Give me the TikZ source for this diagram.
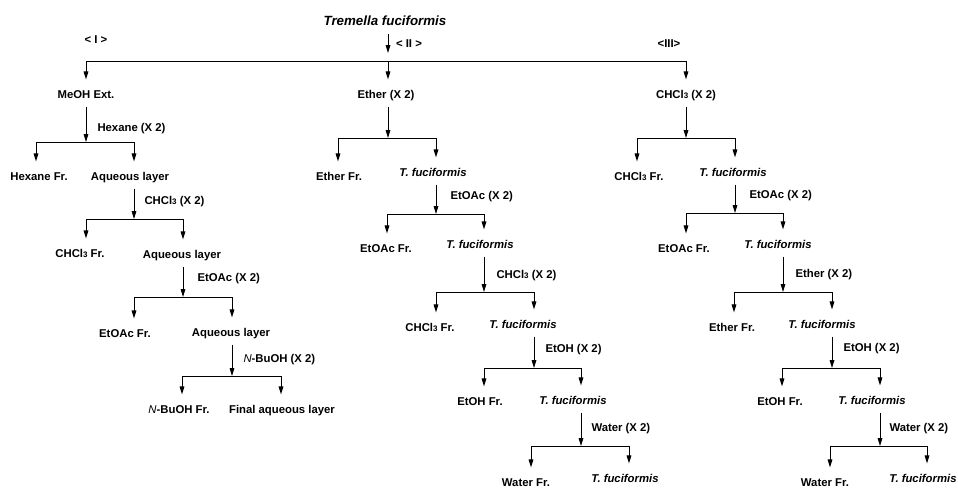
\documentclass[tikz,border=0pt]{standalone}
\usepackage{fontspec}
\setmainfont{Liberation Sans}
\usetikzlibrary{arrows.meta}

\newcommand{\chclthree}{CHCl{\fontsize{6}{6}\selectfont 3}}

\tikzset{every picture/.style={line width=0.75pt}}
\tikzset{
  txt/.style={anchor=base, inner sep=0.75pt, text height=6.4pt, text depth=2.1pt,
    font=\fontsize{8.5}{10}\selectfont\bfseries},
  sol/.style={txt, anchor=base west},
  ttl/.style={anchor=base, inner sep=0.75pt, text depth=2.5pt,
    font=\fontsize{10}{12}\selectfont\bfseries\itshape},
  arr/.style={-{Triangle[length=6pt,width=3.5pt]}},
  down/.style={arr, shorten >=6.4pt},
  stem/.style={arr, shorten <=3.2pt},
}

\begin{document}
\begin{tikzpicture}[x=0.75pt,y=0.75pt,yscale=-1,xscale=1]
\useasboundingbox (0,0) rectangle (958,487);

%Coordinates of the bars
\coordinate (t0) at (388,53);
\coordinate (b0l) at (86,61); \coordinate (b0m) at (388,61); \coordinate (b0r) at (686,61);
% left
\coordinate (hxj) at (86,142);  \coordinate (hxl) at (36,142);  \coordinate (hxr) at (134,142);
\coordinate (lcj) at (134,219); \coordinate (lcl) at (86,219);  \coordinate (lcr) at (183,219);
\coordinate (lej) at (183,297); \coordinate (lel) at (134,297); \coordinate (ler) at (232,297);
\coordinate (lbj) at (232,376); \coordinate (lbl) at (182,376); \coordinate (lbr) at (281,376);
% middle
\coordinate (m1j) at (388,138); \coordinate (m1l) at (338,138); \coordinate (m1r) at (436,138);
\coordinate (m2j) at (436,214); \coordinate (m2l) at (387,214); \coordinate (m2r) at (484,214);
\coordinate (m3j) at (484,292); \coordinate (m3l) at (436,292); \coordinate (m3r) at (534,292);
\coordinate (m4j) at (534,368); \coordinate (m4l) at (484,368); \coordinate (m4r) at (581,368);
\coordinate (m5j) at (581,446); \coordinate (m5l) at (531,446); \coordinate (m5r) at (629,446);
% right
\coordinate (r1j) at (686,138); \coordinate (r1l) at (637,138); \coordinate (r1r) at (735,138);
\coordinate (r2j) at (735,213); \coordinate (r2l) at (686,213); \coordinate (r2r) at (783,213);
\coordinate (r3j) at (783,292); \coordinate (r3l) at (734,292); \coordinate (r3r) at (832,292);
\coordinate (r4j) at (832,368); \coordinate (r4l) at (782,368); \coordinate (r4r) at (880,368);
\coordinate (r5j) at (880,446); \coordinate (r5l) at (830,446); \coordinate (r5r) at (927,446);

% Text Node
\node [ttl] (tf) at (385,25) {Tremella fuciformis};
\node [txt] (r1) at (96,43) {< I >};
\node [txt] (r2) at (409,47) {< II >};
\node [txt] (r3) at (669,47) {<III>};
\node [txt] (meoh) at (86,98) {MeOH Ext.};
\node [txt] (eth) at (386,98) {Ether (X 2)};
\node [txt] (chl) at (686,98) {\chclthree{} (X 2)};

% Text Node
\node [sol] (lhx) at (96,131) {Hexane (X 2)};
\node [txt] (hexfr) at (39,180) {Hexane Fr.};
\node [txt] (aq1) at (130,180) {Aqueous layer};
\node [sol] (lch) at (143,204) {\chclthree{} (X 2)};
\node [txt] (chfr1) at (80,257) {\chclthree{} Fr.};
\node [txt] (aq2) at (182,258) {Aqueous layer};
\node [sol] (lea) at (196,281) {EtOAc (X 2)};
\node [txt] (eafr1) at (125,337) {EtOAc Fr.};
\node [txt] (aq3) at (231,336) {Aqueous layer};
\node [sol] (lbu) at (242,362) {{\mdseries\itshape N}-BuOH (X 2)};
\node [txt] (bufr) at (179,413) {{\mdseries\itshape N}-BuOH Fr.};
\node [txt] (fin) at (282,413) {Final aqueous layer};

% Text Node
\node [txt] (ethfr) at (339,180) {Ether Fr.};
\node [txt] (tf1) at (433,176) {\itshape T. fuciformis};
\node [sol] (mea) at (449,199) {EtOAc (X 2)};
\node [txt] (eafr2) at (386,252) {EtOAc Fr.};
\node [txt] (tf2) at (480,248) {\itshape T. fuciformis};
\node [sol] (mch) at (495,278) {\chclthree{} (X 2)};
\node [txt] (chfr2) at (430,331) {\chclthree{} Fr.};
\node [txt] (tf3) at (523,328) {\itshape T. fuciformis};
\node [sol] (meo) at (544,352) {EtOH (X 2)};
\node [txt] (eofr1) at (480,405) {EtOH Fr.};
\node [txt] (tf4) at (573,404) {\itshape T. fuciformis};
\node [sol] (mwa) at (590,431) {Water (X 2)};
\node [txt] (wfr1) at (526,486) {Water Fr.};
\node [txt] (tf5) at (625,482) {\itshape T. fuciformis};

% Text Node
\node [txt] (chfr3) at (639,180) {\chclthree{} Fr.};
\node [txt] (tf6) at (733,176) {\itshape T. fuciformis};
\node [sol] (rea) at (748,198) {EtOAc (X 2)};
\node [txt] (eafr3) at (684,252) {EtOAc Fr.};
\node [txt] (tf7) at (778,248) {\itshape T. fuciformis};
\node [sol] (ret) at (794,277) {Ether (X 2)};
\node [txt] (ethfr2) at (732,331) {Ether Fr.};
\node [txt] (tf8) at (822,328) {\itshape T. fuciformis};
\node [sol] (reo) at (842,351) {EtOH (X 2)};
\node [txt] (eofr2) at (780,405) {EtOH Fr.};
\node [txt] (tf9) at (872,404) {\itshape T. fuciformis};
\node [sol] (rwa) at (888,431) {Water (X 2)};
\node [txt] (wfr2) at (825,486) {Water Fr.};
\node [txt] (tf10) at (923,482) {\itshape T. fuciformis};

%Straight Lines
\draw [stem] (tf.south -| t0) -- (t0);
\draw (b0l) -- (b0r);
\draw [down] (b0l) -- (b0l |- meoh.north);
\draw [down] (b0m) -- (b0m |- eth.north);
\draw [down] (b0r) -- (b0r |- chl.north);

%Straight Lines
\draw [stem] (meoh.south -| hxj) -- (hxj);
\draw (hxl) -- (hxr);
\draw [down] (hxl) -- (hxl |- hexfr.north);
\draw [down] (hxr) -- (hxr |- aq1.north);
\draw [stem] (aq1.south -| lcj) -- (lcj);
\draw (lcl) -- (lcr);
\draw [down] (lcl) -- (lcl |- chfr1.north);
\draw [down] (lcr) -- (lcr |- aq2.north);
\draw [stem] (aq2.south -| lej) -- (lej);
\draw (lel) -- (ler);
\draw [down] (lel) -- (lel |- eafr1.north);
\draw [down] (ler) -- (ler |- aq3.north);
\draw [stem] (aq3.south -| lbj) -- (lbj);
\draw (lbl) -- (lbr);
\draw [down] (lbl) -- (lbl |- bufr.north);
\draw [down] (lbr) -- (lbr |- fin.north);

%Straight Lines
\draw [stem] (eth.south -| m1j) -- (m1j);
\draw (m1l) -- (m1r);
\draw [down] (m1l) -- (m1l |- ethfr.north);
\draw [down] (m1r) -- (m1r |- tf1.north);
\draw [stem] (tf1.south -| m2j) -- (m2j);
\draw (m2l) -- (m2r);
\draw [down] (m2l) -- (m2l |- eafr2.north);
\draw [down] (m2r) -- (m2r |- tf2.north);
\draw [stem] (tf2.south -| m3j) -- (m3j);
\draw (m3l) -- (m3r);
\draw [down] (m3l) -- (m3l |- chfr2.north);
\draw [down] (m3r) -- (m3r |- tf3.north);
\draw [stem] (tf3.south -| m4j) -- (m4j);
\draw (m4l) -- (m4r);
\draw [down] (m4l) -- (m4l |- eofr1.north);
\draw [down] (m4r) -- (m4r |- tf4.north);
\draw [stem] (tf4.south -| m5j) -- (m5j);
\draw (m5l) -- (m5r);
\draw [down] (m5l) -- (m5l |- wfr1.north);
\draw [down] (m5r) -- (m5r |- tf5.north);

%Straight Lines
\draw [stem] (chl.south -| r1j) -- (r1j);
\draw (r1l) -- (r1r);
\draw [down] (r1l) -- (r1l |- chfr3.north);
\draw [down] (r1r) -- (r1r |- tf6.north);
\draw [stem] (tf6.south -| r2j) -- (r2j);
\draw (r2l) -- (r2r);
\draw [down] (r2l) -- (r2l |- eafr3.north);
\draw [down] (r2r) -- (r2r |- tf7.north);
\draw [stem] (tf7.south -| r3j) -- (r3j);
\draw (r3l) -- (r3r);
\draw [down] (r3l) -- (r3l |- ethfr2.north);
\draw [down] (r3r) -- (r3r |- tf8.north);
\draw [stem] (tf8.south -| r4j) -- (r4j);
\draw (r4l) -- (r4r);
\draw [down] (r4l) -- (r4l |- eofr2.north);
\draw [down] (r4r) -- (r4r |- tf9.north);
\draw [stem] (tf9.south -| r5j) -- (r5j);
\draw (r5l) -- (r5r);
\draw [down] (r5l) -- (r5l |- wfr2.north);
\draw [down] (r5r) -- (r5r |- tf10.north);

\end{tikzpicture}
\end{document}
